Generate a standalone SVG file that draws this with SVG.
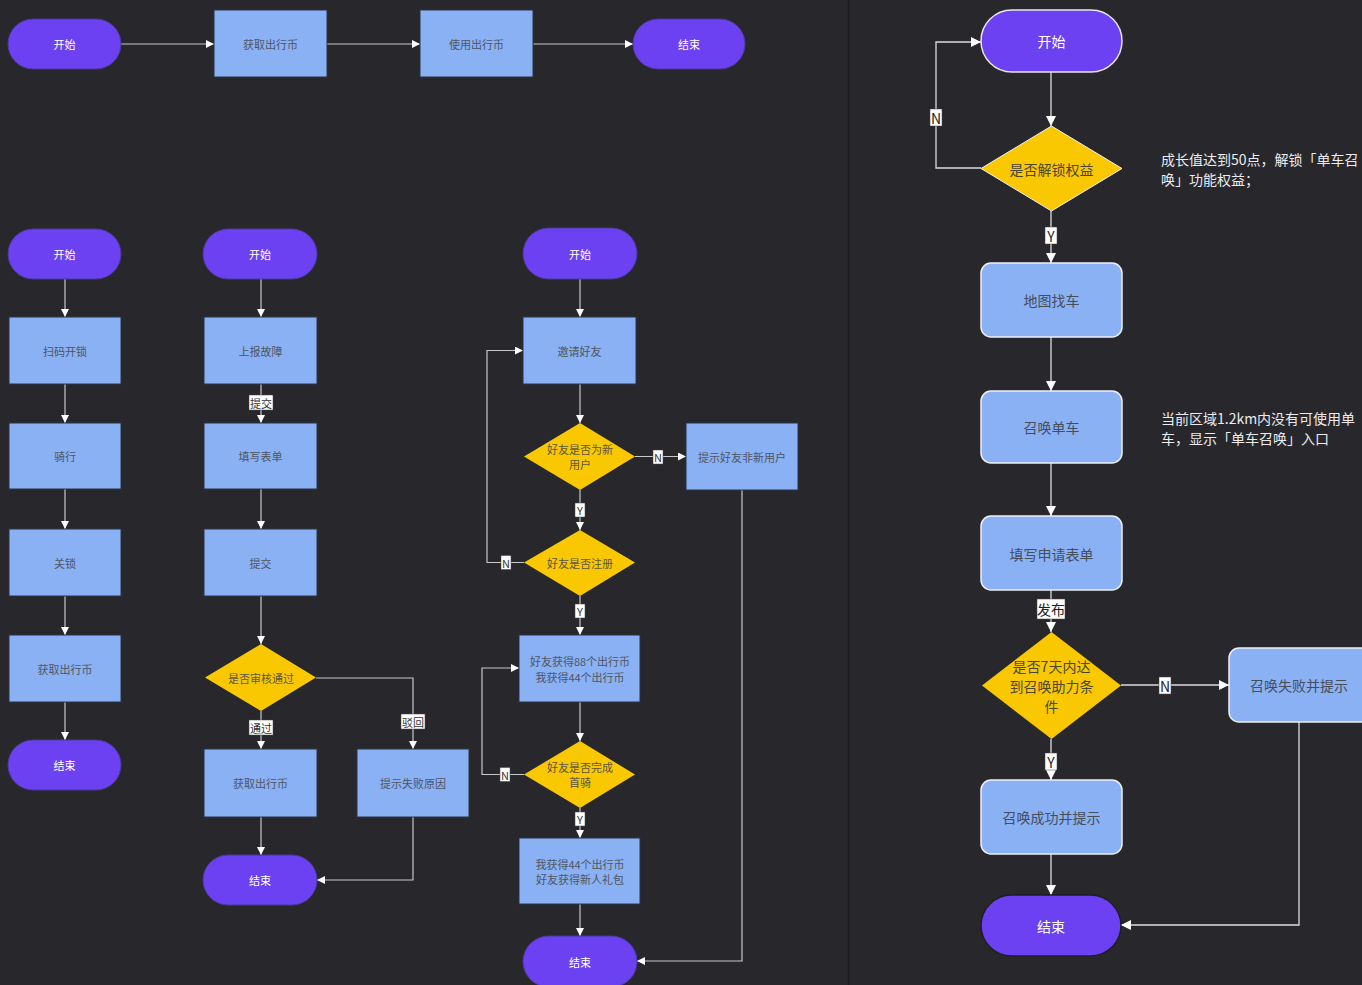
<svg xmlns="http://www.w3.org/2000/svg" width="1362" height="985" viewBox="0 0 1362 985">
<defs>
<marker id="ah" viewBox="0 0 10 10" refX="10" refY="5" markerWidth="8" markerHeight="8" orient="auto" markerUnits="userSpaceOnUse"><path d="M0,0 L10,5 L0,10 z" fill="#ffffff"/></marker>
<marker id="ah2" viewBox="0 0 10 10" refX="10" refY="5" markerWidth="10" markerHeight="10" orient="auto" markerUnits="userSpaceOnUse"><path d="M0,0 L10,5 L0,10 z" fill="#ffffff"/></marker>
<style>
text{font-family:"Noto Sans CJK SC","Noto Sans",sans-serif;text-anchor:middle;dominant-baseline:central}
.pill{fill:#6b41f1;stroke:#4b3a9a;stroke-width:1}
.pillR{fill:#6b41f1;stroke:#e6e6ee;stroke-width:1.5}
.pillR2{fill:#6b41f1;stroke:#1e1e24;stroke-width:1.5}
.box{fill:#89b1f4;stroke:#2b3447;stroke-width:1}
.boxR{fill:#89b1f4;stroke:#eef0f6;stroke-width:1.5}
.dia{fill:#f9c800}
.diaR{fill:#f9c800;stroke:#f0f0f0;stroke-width:1}
.tw{fill:#ffffff;font-size:11px}
.tb{fill:#4f5563;font-size:11px}
.td{fill:#5d5640;font-size:11px}
.twR{fill:#ffffff;font-size:14px}
.tbR{fill:#474d5a;font-size:14px}
.tdR{fill:#4d4632;font-size:14px}
.note{fill:#ececf0;font-size:14px;text-anchor:start}
.ln{fill:none;stroke:#c9c9cc;stroke-width:1.2;marker-end:url(#ah)}
.lnR{fill:none;stroke:#dcdcdf;stroke-width:1.3;marker-end:url(#ah2)}
.lb{fill:#ffffff;stroke:#444;stroke-width:0.5}
.lt{fill:#333333;font-size:11px}
.ltR{fill:#222222;font-size:14px}
</style>
</defs>
<rect x="0" y="0" width="1362" height="985" fill="#27272c"/>
<line x1="848.5" y1="0" x2="848.5" y2="985" stroke="#1a1a1e" stroke-width="1.5"/>

<g id="connectors">
<!-- top flow -->
<path class="ln" d="M121,44 H214"/>
<path class="ln" d="M327,44 H420"/>
<path class="ln" d="M533,44 H633"/>
<!-- column 1 -->
<path class="ln" d="M65,279 V317"/>
<path class="ln" d="M65,384 V423"/>
<path class="ln" d="M65,489 V529"/>
<path class="ln" d="M65,596 V635"/>
<path class="ln" d="M65,702 V740"/>
<!-- column 2 -->
<path class="ln" d="M261,279 V317"/>
<path class="ln" d="M261,384 V423"/>
<path class="ln" d="M261,489 V529"/>
<path class="ln" d="M261,596 V644"/>
<path class="ln" d="M261,711 V749"/>
<path class="ln" d="M261,817 V855"/>
<path class="ln" d="M316,678 H413 V749"/>
<path class="ln" d="M413,817 V880 H317"/>
<!-- column 3 -->
<path class="ln" d="M580,279 V317"/>
<path class="ln" d="M580,384 V423"/>
<path class="ln" d="M635,456.5 H686"/>
<path class="ln" d="M580,490 V530"/>
<path class="ln" d="M524,562.5 H487 V350.5 H523"/>
<path class="ln" d="M580,596 V635"/>
<path class="ln" d="M580,702 V741"/>
<path class="ln" d="M524,774.5 H482 V668 H519"/>
<path class="ln" d="M580,808 V838"/>
<path class="ln" d="M580,904 V936"/>
<path class="ln" d="M742,490 V961 H637"/>
<!-- right flow -->
<path class="lnR" d="M1051,72 V126"/>
<path class="lnR" d="M981,168 H936 V42 H981"/>
<path class="lnR" d="M1051,211 V263"/>
<path class="lnR" d="M1051,337 V391"/>
<path class="lnR" d="M1051,463 V516"/>
<path class="lnR" d="M1051,590 V632"/>
<path class="lnR" d="M1051,739 V780"/>
<path class="lnR" d="M1121,685 H1229"/>
<path class="lnR" d="M1051,854 V895"/>
<path class="lnR" d="M1299,722 V925 H1121"/>

<!-- labels -->
<rect class="lb" x="249" y="395" width="24" height="15"/><text class="lt" x="261" y="402.5">提交</text>
<rect class="lb" x="249" y="720" width="24" height="15"/><text class="lt" x="261" y="727.5">通过</text>
<rect class="lb" x="401" y="714" width="24" height="15"/><text class="lt" x="413" y="721.5">驳回</text>
<rect class="lb" x="653" y="450" width="10" height="14"/><text class="lt" x="658" y="457">N</text>
<rect class="lb" x="575" y="503" width="10" height="14"/><text class="lt" x="580" y="510">Y</text>
<rect class="lb" x="501" y="555.5" width="10" height="14"/><text class="lt" x="506" y="562.5">N</text>
<rect class="lb" x="575" y="604" width="10" height="14"/><text class="lt" x="580" y="611">Y</text>
<rect class="lb" x="500" y="767.5" width="10" height="14"/><text class="lt" x="505" y="774.5">N</text>
<rect class="lb" x="575" y="812" width="10" height="14"/><text class="lt" x="580" y="819">Y</text>
<rect class="lb" x="930" y="109" width="12" height="17"/><text class="ltR" x="936" y="117.5">N</text>
<rect class="lb" x="1045" y="227" width="12" height="17"/><text class="ltR" x="1051" y="235.5">Y</text>
<rect class="lb" x="1037" y="599" width="28" height="20"/><text class="ltR" x="1051" y="609">发布</text>
<rect class="lb" x="1045" y="753" width="12" height="17"/><text class="ltR" x="1051" y="761.5">Y</text>
<rect class="lb" x="1159" y="677" width="12" height="17"/><text class="ltR" x="1165" y="685.5">N</text>
</g>

<!-- top flow -->
<g id="t-start"><rect class="pill" x="8" y="19" width="113" height="50" rx="25"/><text class="tw" x="64.5" y="44">开始</text></g>
<g id="t-get"><rect class="box" x="214" y="10" width="113" height="67"/><text class="tb" x="270.5" y="44">获取出行币</text></g>
<g id="t-use"><rect class="box" x="420" y="10" width="113" height="67"/><text class="tb" x="476.5" y="44">使用出行币</text></g>
<g id="t-end"><rect class="pill" x="633" y="19" width="112" height="50" rx="25"/><text class="tw" x="689" y="44">结束</text></g>

<!-- column 1 -->
<g id="c1-start"><rect class="pill" x="8" y="229" width="113" height="50" rx="25"/><text class="tw" x="64.5" y="254">开始</text></g>
<g id="c1-scan"><rect class="box" x="9" y="317" width="112" height="67"/><text class="tb" x="65" y="350.5">扫码开锁</text></g>
<g id="c1-ride"><rect class="box" x="9" y="423" width="112" height="66"/><text class="tb" x="65" y="456">骑行</text></g>
<g id="c1-lock"><rect class="box" x="9" y="529" width="112" height="67"/><text class="tb" x="65" y="562.5">关锁</text></g>
<g id="c1-get"><rect class="box" x="9" y="635" width="112" height="67"/><text class="tb" x="65" y="668.5">获取出行币</text></g>
<g id="c1-end"><rect class="pill" x="8" y="740" width="113" height="50" rx="25"/><text class="tw" x="64.5" y="765">结束</text></g>

<!-- column 2 -->
<g id="c2-start"><rect class="pill" x="203" y="229" width="114" height="50" rx="25"/><text class="tw" x="260" y="254">开始</text></g>
<g id="c2-report"><rect class="box" x="204" y="317" width="113" height="67"/><text class="tb" x="260.5" y="350.5">上报故障</text></g>
<g id="c2-form"><rect class="box" x="204" y="423" width="113" height="66"/><text class="tb" x="260.5" y="456">填写表单</text></g>
<g id="c2-submit"><rect class="box" x="204" y="529" width="113" height="67"/><text class="tb" x="260.5" y="562.5">提交</text></g>
<g id="c2-check"><polygon class="dia" points="261,644 316,677.5 261,711 205,677.5"/><text class="td" x="261" y="677.5">是否审核通过</text></g>
<g id="c2-get"><rect class="box" x="204" y="749" width="113" height="68"/><text class="tb" x="260.5" y="783">获取出行币</text></g>
<g id="c2-fail"><rect class="box" x="357" y="749" width="112" height="68"/><text class="tb" x="413" y="783">提示失败原因</text></g>
<g id="c2-end"><rect class="pill" x="203" y="855" width="114" height="50" rx="25"/><text class="tw" x="260" y="880">结束</text></g>

<!-- column 3 -->
<g id="c3-start"><rect class="pill" x="523" y="228" width="114" height="51" rx="25.5"/><text class="tw" x="580" y="253.5">开始</text></g>
<g id="c3-invite"><rect class="box" x="523" y="317" width="113" height="67"/><text class="tb" x="579.5" y="350.5">邀请好友</text></g>
<g id="c3-isnew"><polygon class="dia" points="580,423 635,456.5 580,490 524,456.5"/><text class="td" x="580" y="449">好友是否为新</text><text class="td" x="580" y="464">用户</text></g>
<g id="c3-notnew"><rect class="box" x="686" y="423" width="112" height="67"/><text class="tb" x="742" y="456.5">提示好友非新用户</text></g>
<g id="c3-reg"><polygon class="dia" points="580,530 635,562.5 580,596 524,562.5"/><text class="td" x="580" y="562.5">好友是否注册</text></g>
<g id="c3-reward1"><rect class="box" x="519" y="635" width="121" height="67"/><text class="tb" x="580" y="661">好友获得88个出行币</text><text class="tb" x="580" y="677">我获得44个出行币</text></g>
<g id="c3-ride"><polygon class="dia" points="580,741 635,774.5 580,808 524,774.5"/><text class="td" x="580" y="767">好友是否完成</text><text class="td" x="580" y="782">首骑</text></g>
<g id="c3-reward2"><rect class="box" x="519" y="838" width="121" height="66"/><text class="tb" x="580" y="864">我获得44个出行币</text><text class="tb" x="580" y="879">好友获得新人礼包</text></g>
<g id="c3-end"><rect class="pill" x="523" y="936" width="114" height="51" rx="25.5"/><text class="tw" x="580" y="961.5">结束</text></g>

<!-- right flow -->
<g id="r-start"><rect class="pillR" x="981" y="10" width="141" height="62" rx="31"/><text class="twR" x="1051.5" y="41">开始</text></g>
<g id="r-unlock"><polygon class="diaR" points="1051.5,126 1122,168.5 1051.5,211 981,168.5"/><text class="tdR" x="1051.5" y="168.5">是否解锁权益</text></g>
<g id="r-note1"><text class="note" x="1161" y="158.5">成长值达到50点，解锁「单车召</text><text class="note" x="1161" y="178.5">唤」功能权益；</text></g>
<g id="r-map"><rect class="boxR" x="981" y="263" width="141" height="74" rx="10"/><text class="tbR" x="1051.5" y="300">地图找车</text></g>
<g id="r-summon"><rect class="boxR" x="981" y="391" width="141" height="72" rx="10"/><text class="tbR" x="1051.5" y="427">召唤单车</text></g>
<g id="r-note2"><text class="note" x="1161" y="418">当前区域1.2km内没有可使用单</text><text class="note" x="1161" y="437.5">车，显示「单车召唤」入口</text></g>
<g id="r-form"><rect class="boxR" x="981" y="516" width="141" height="74" rx="10"/><text class="tbR" x="1051.5" y="554">填写申请表单</text></g>
<g id="r-cond"><polygon class="dia" points="1051.5,632 1121,685.5 1051.5,739 982,685.5"/><text class="tdR" x="1051.5" y="665.5">是否7天内达</text><text class="tdR" x="1051.5" y="685.5">到召唤助力条</text><text class="tdR" x="1051.5" y="705.5">件</text></g>
<g id="r-fail"><rect class="boxR" x="1229" y="648" width="142" height="74" rx="10"/><text class="tbR" x="1299" y="685">召唤失败并提示</text></g>
<g id="r-ok"><rect class="boxR" x="981" y="780" width="141" height="74" rx="10"/><text class="tbR" x="1051.5" y="817">召唤成功并提示</text></g>
<g id="r-end"><rect class="pillR2" x="981" y="895" width="140" height="61" rx="30.5"/><text class="twR" x="1051" y="925.5">结束</text></g>
</svg>
